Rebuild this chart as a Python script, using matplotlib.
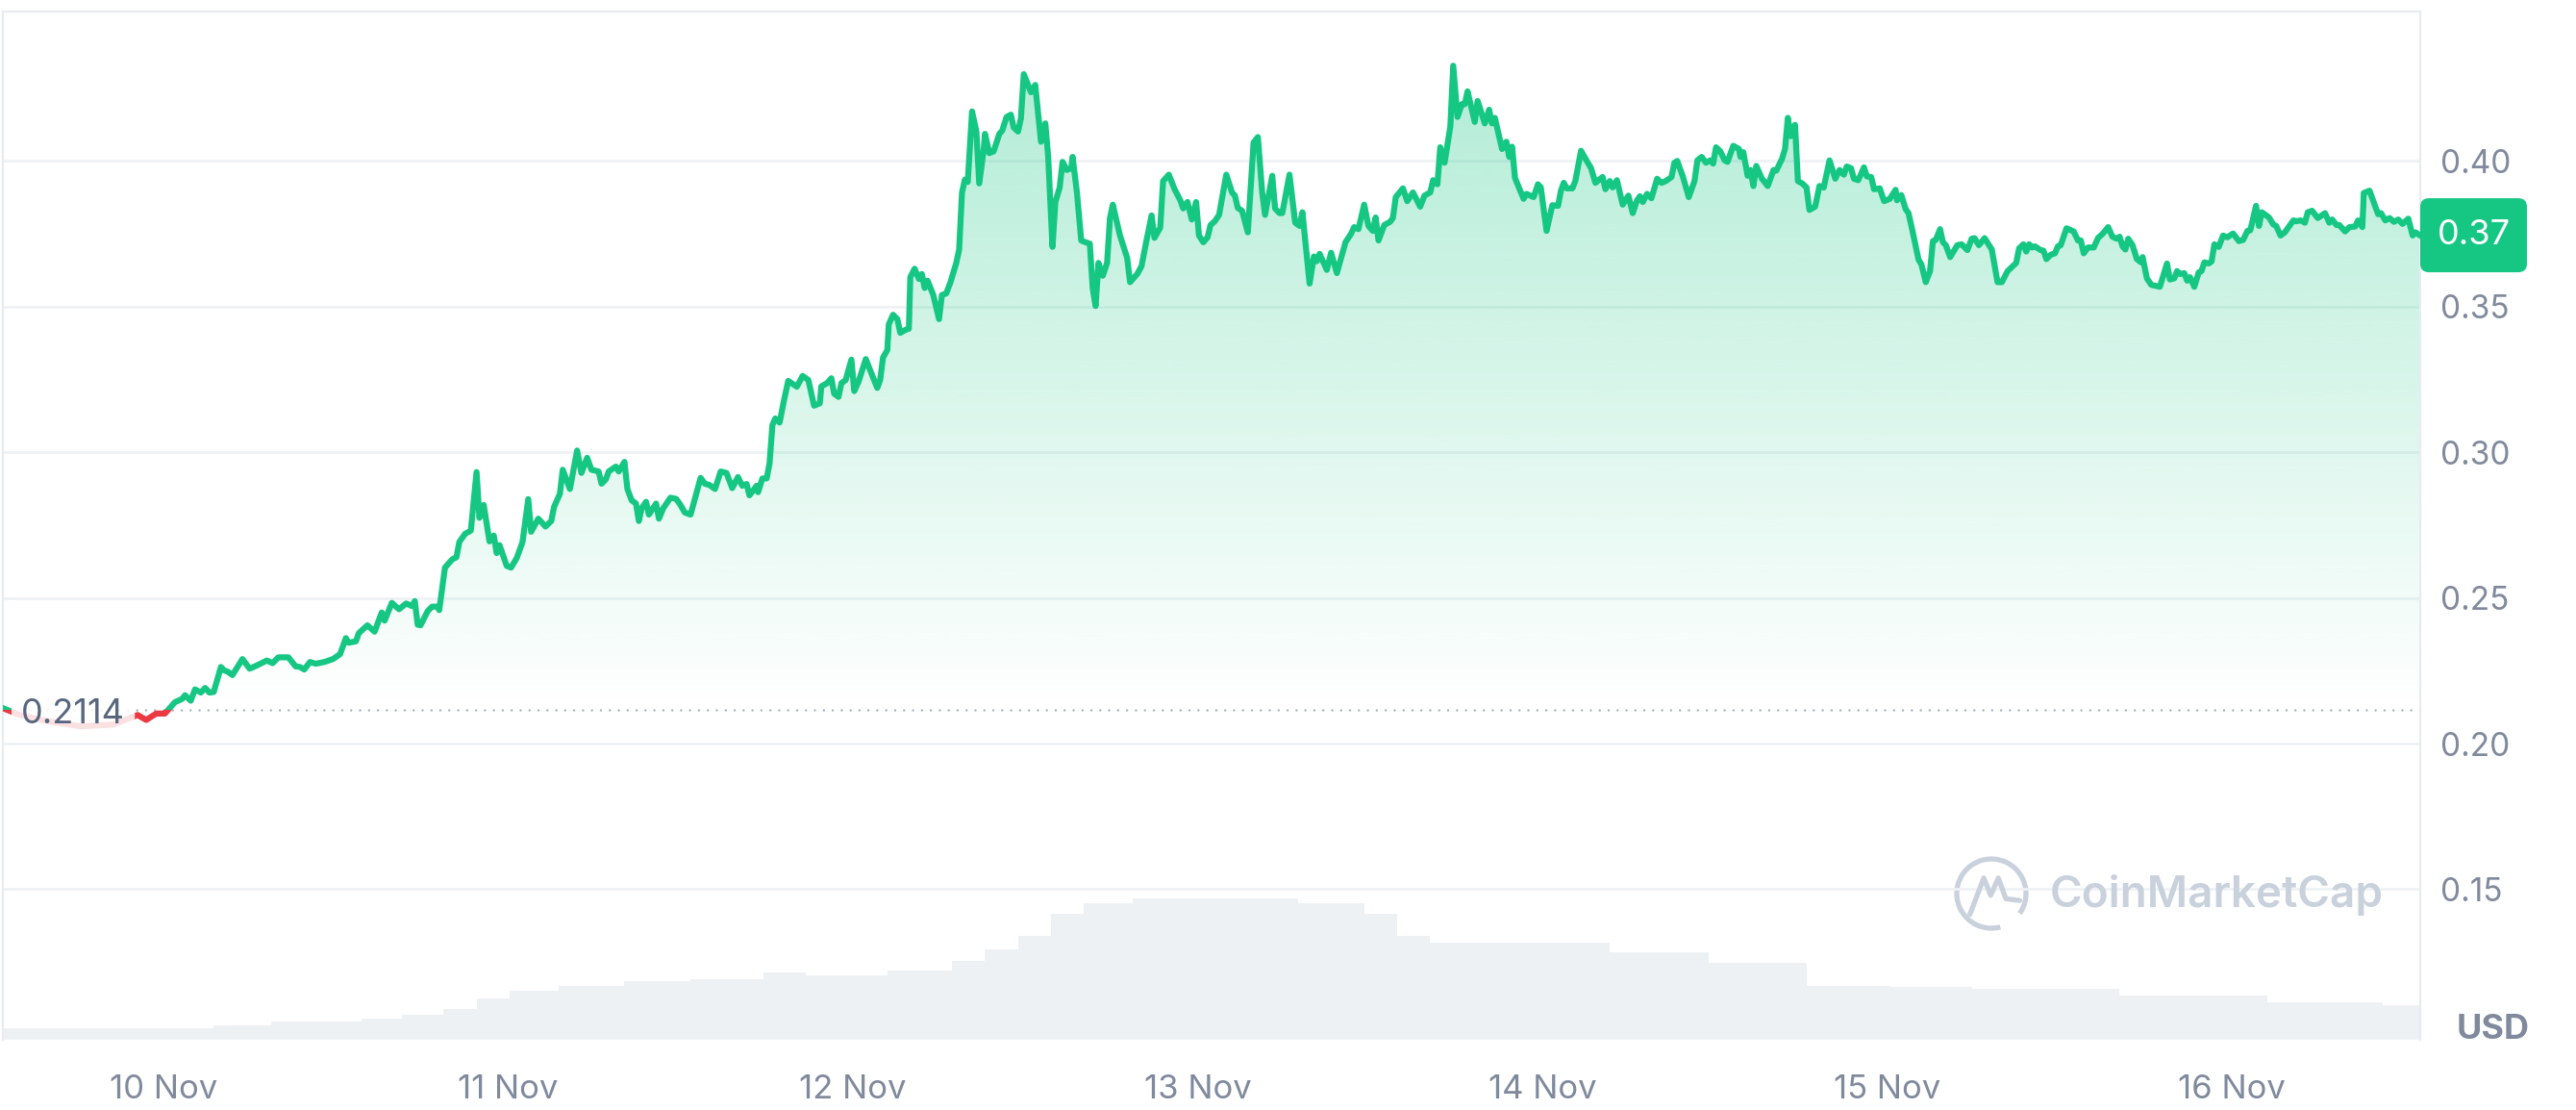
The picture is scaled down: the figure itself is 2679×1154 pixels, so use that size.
import numpy as np
import matplotlib.pyplot as plt
from matplotlib.patches import Rectangle, FancyBboxPatch, PathPatch, Arc
from matplotlib.colors import to_rgb
from matplotlib.transforms import IdentityTransform

plt.rcParams['font.family'] = ['Inter', 'DejaVu Sans']

# -----------------------------
# Data (hours after 10 Nov 00:00, price in USD)
# -----------------------------
hours = [
    -11.1, -10.0, -8.0, -5.8, -3.5, -1.8, -1.2, -0.5, 0.1, 0.5,
    0.8, 1.3, 1.5, 1.9, 2.2, 2.6, 2.9, 3.2, 3.5, 4.0,
    4.2, 4.5, 4.8, 5.5, 6.0, 6.5, 7.2, 7.6, 8.0, 8.7,
    9.2, 9.5, 9.8, 10.2, 10.6, 11.2, 11.8, 12.3, 12.7, 12.9,
    13.4, 13.6, 14.2, 14.7, 15.2, 15.4, 15.9, 16.4, 16.9, 17.3,
    17.5, 17.7, 17.9, 18.4, 18.7, 19.1, 19.2, 19.6, 20.1, 20.4,
    20.6, 21.0, 21.4, 21.8, 22.0, 22.3, 22.7, 23.0, 23.2, 23.4,
    23.9, 24.2, 24.6, 25.0, 25.4, 25.6, 26.1, 26.6, 27.0, 27.2,
    27.6, 27.8, 28.3, 28.8, 29.1, 29.5, 29.8, 30.3, 30.5, 30.8,
    31.0, 31.5, 31.7, 32.1, 32.3, 32.6, 32.9, 33.1, 33.3, 33.6,
    33.8, 34.3, 34.5, 34.8, 35.3, 35.7, 36.0, 36.3, 36.7, 37.4,
    37.7, 38.0, 38.4, 38.8, 39.2, 39.6, 40.0, 40.3, 40.6, 40.8,
    41.3, 41.4, 41.7, 42.0, 42.2, 42.4, 42.6, 42.9, 43.2, 43.5,
    44.1, 44.5, 44.9, 45.3, 45.7, 45.8, 46.2, 46.5, 46.7, 47.0,
    47.2, 47.5, 47.9, 48.1, 48.4, 48.9, 49.3, 49.7, 49.9, 50.1,
    50.4, 50.5, 50.8, 51.1, 51.3, 51.7, 51.9, 52.0, 52.3, 52.6,
    52.8, 53.0, 53.2, 53.6, 54.0, 54.2, 54.5, 54.8, 55.2, 55.4,
    55.6, 55.8, 56.0, 56.3, 56.6, 56.8, 57.1, 57.2, 57.5, 57.8,
    58.2, 58.4, 58.7, 59.0, 59.2, 59.5, 59.7, 59.9, 60.4, 60.7,
    61.1, 61.4, 61.6, 61.9, 62.1, 62.4, 62.6, 62.9, 63.2, 63.3,
    63.6, 63.9, 64.2, 64.5, 64.7, 64.9, 65.1, 65.4, 65.7, 65.9,
    66.1, 66.6, 67.1, 67.3, 67.8, 68.1, 68.4, 68.8, 69.0, 69.4,
    69.6, 70.0, 70.4, 70.8, 71.0, 71.3, 71.6, 71.9, 72.1, 72.4,
    72.7, 72.9, 73.2, 73.5, 74.0, 74.4, 74.6, 74.8, 75.1, 75.5,
    75.9, 76.2, 76.5, 76.7, 77.2, 77.4, 77.7, 77.9, 78.4, 78.8,
    79.1, 79.3, 79.8, 80.1, 80.3, 80.5, 81.0, 81.3, 81.7, 82.3,
    82.7, 82.9, 83.2, 83.6, 83.9, 84.2, 84.4, 84.6, 85.0, 85.4,
    85.6, 85.8, 86.3, 86.6, 87.0, 87.5, 87.8, 88.2, 88.4, 88.7,
    88.9, 89.2, 89.6, 89.8, 90.1, 90.4, 90.6, 90.8, 91.3, 91.5,
    92.0, 92.3, 92.5, 92.7, 93.2, 93.5, 93.7, 93.9, 94.1, 94.7,
    94.9, 95.4, 95.7, 95.9, 96.3, 96.7, 97.1, 97.3, 97.5, 97.7,
    98.1, 98.3, 98.7, 99.1, 99.4, 99.7, 100.2, 100.4, 100.7, 100.9,
    101.2, 101.6, 102.0, 102.3, 102.6, 102.8, 103.0, 103.3, 103.6, 104.0,
    104.3, 104.6, 105.0, 105.2, 105.4, 105.8, 106.2, 106.6, 106.8, 107.1,
    107.4, 107.7, 107.9, 108.1, 108.4, 108.7, 108.9, 109.3, 109.7, 109.8,
    110.0, 110.3, 110.5, 110.7, 110.9, 111.3, 111.7, 112.1, 112.3, 112.7,
    112.9, 113.1, 113.3, 113.6, 113.8, 114.1, 114.4, 114.6, 115.0, 115.3,
    115.6, 116.0, 116.4, 116.7, 117.0, 117.2, 117.5, 117.7, 118.0, 118.4,
    118.6, 118.9, 119.1, 119.5, 119.8, 120.2, 120.6, 120.7, 121.0, 121.3,
    121.5, 121.8, 122.2, 122.4, 122.7, 123.0, 123.2, 123.4, 123.7, 123.9,
    124.1, 124.4, 124.9, 125.2, 125.6, 125.9, 126.1, 126.4, 126.8, 127.3,
    127.7, 128.0, 128.4, 129.0, 129.2, 129.5, 129.7, 129.9, 130.1, 130.3,
    130.7, 130.9, 131.1, 131.4, 131.7, 131.9, 132.1, 132.5, 133.0, 133.3,
    133.5, 133.7, 134.0, 134.4, 134.7, 135.0, 135.4, 135.7, 136.0, 136.2,
    136.4, 136.6, 136.8, 137.1, 137.4, 137.7, 137.8, 138.1, 138.4, 139.0,
    139.5, 139.7, 140.0, 140.2, 140.4, 140.7, 140.9, 141.1, 141.4, 141.7,
    141.9, 142.1, 142.4, 142.6, 142.8, 143.1, 143.4, 143.7, 144.1, 144.5,
    144.8, 145.1, 145.3, 145.7, 145.9, 146.1, 146.6, 146.9, 147.1, 147.4,
    147.7, 148.3, 148.5, 148.8, 149.1, 149.3, 149.6, 150.0, 150.5, 150.8,
    151.0, 151.3, 151.5, 151.9, 152.2, 152.6, 152.8, 153.1, 153.2, 153.6,
    154.2, 154.4, 154.7, 155.0, 155.3, 155.6, 155.9, 156.3, 156.6, 156.8,
    157.1,
]
price = [
    0.2120, 0.2098, 0.2076, 0.2059, 0.2065, 0.2098, 0.2081, 0.2103, 0.2103, 0.2125,
    0.2142, 0.2153, 0.2166, 0.2147, 0.2186, 0.2175, 0.2191, 0.2175, 0.2177, 0.2263,
    0.2252, 0.2246, 0.2235, 0.2290, 0.2257, 0.2268, 0.2285, 0.2276, 0.2296, 0.2296,
    0.2265, 0.2263, 0.2254, 0.2280, 0.2274, 0.2280, 0.2290, 0.2307, 0.2362, 0.2346,
    0.2351, 0.2379, 0.2406, 0.2384, 0.2450, 0.2422, 0.2483, 0.2461, 0.2481, 0.2472,
    0.2489, 0.2408, 0.2406, 0.2455, 0.2470, 0.2470, 0.2458, 0.2604, 0.2632, 0.2640,
    0.2692, 0.2720, 0.2731, 0.2932, 0.2775, 0.2819, 0.2694, 0.2714, 0.2654, 0.2681,
    0.2610, 0.2604, 0.2637, 0.2692, 0.2839, 0.2727, 0.2772, 0.2745, 0.2764, 0.2813,
    0.2857, 0.2940, 0.2874, 0.3006, 0.2929, 0.2981, 0.2940, 0.2934, 0.2892, 0.2907,
    0.2934, 0.2951, 0.2934, 0.2967, 0.2874, 0.2835, 0.2824, 0.2764, 0.2808, 0.2830,
    0.2786, 0.2824, 0.2772, 0.2808, 0.2844, 0.2840, 0.2819, 0.2793, 0.2786, 0.2912,
    0.2892, 0.2888, 0.2874, 0.2934, 0.2929, 0.2877, 0.2915, 0.2885, 0.2891, 0.2852,
    0.2885, 0.2863, 0.2910, 0.2910, 0.2962, 0.3094, 0.3116, 0.3102, 0.3177, 0.3245,
    0.3225, 0.3262, 0.3248, 0.3160, 0.3168, 0.3226, 0.3237, 0.3254, 0.3201, 0.3190,
    0.3237, 0.3248, 0.3318, 0.3210, 0.3243, 0.3320, 0.3270, 0.3221, 0.3248, 0.3325,
    0.3351, 0.3439, 0.3472, 0.3457, 0.3410, 0.3421, 0.3424, 0.3601, 0.3630, 0.3595,
    0.3612, 0.3564, 0.3589, 0.3540, 0.3457, 0.3540, 0.3545, 0.3584, 0.3650, 0.3696,
    0.3892, 0.3936, 0.3928, 0.4170, 0.4101, 0.3923, 0.4035, 0.4093, 0.4027, 0.4033,
    0.4093, 0.4104, 0.4151, 0.4159, 0.4115, 0.4101, 0.4146, 0.4298, 0.4236, 0.4261,
    0.4066, 0.4129, 0.4014, 0.3705, 0.3859, 0.3909, 0.3997, 0.3969, 0.3975, 0.4014,
    0.3892, 0.3727, 0.3721, 0.3716, 0.3562, 0.3502, 0.3650, 0.3606, 0.3650, 0.3804,
    0.3850, 0.3744, 0.3667, 0.3584, 0.3612, 0.3639, 0.3716, 0.3813, 0.3736, 0.3771,
    0.3931, 0.3953, 0.3903, 0.3865, 0.3837, 0.3859, 0.3799, 0.3859, 0.3744, 0.3721,
    0.3738, 0.3780, 0.3793, 0.3815, 0.3953, 0.3892, 0.3881, 0.3839, 0.3829, 0.3755,
    0.4063, 0.4082, 0.3892, 0.3815, 0.3949, 0.3837, 0.3821, 0.3821, 0.3953, 0.3788,
    0.3777, 0.3824, 0.3579, 0.3672, 0.3656, 0.3681, 0.3626, 0.3685, 0.3615, 0.3721,
    0.3751, 0.3773, 0.3766, 0.3850, 0.3777, 0.3760, 0.3806, 0.3727, 0.3780, 0.3791,
    0.3804, 0.3876, 0.3906, 0.3862, 0.3892, 0.3843, 0.3881, 0.3892, 0.3934, 0.3920,
    0.4047, 0.3994, 0.4118, 0.4327, 0.4151, 0.4195, 0.4195, 0.4239, 0.4134, 0.4206,
    0.4129, 0.4176, 0.4129, 0.4148, 0.4041, 0.4066, 0.4014, 0.4049, 0.3942, 0.3870,
    0.3887, 0.3876, 0.3920, 0.3909, 0.3760, 0.3848, 0.3846, 0.3898, 0.3925, 0.3906,
    0.3906, 0.3931, 0.4035, 0.4000, 0.3975, 0.3925, 0.3945, 0.3903, 0.3931, 0.3909,
    0.3934, 0.3850, 0.3881, 0.3821, 0.3865, 0.3879, 0.3859, 0.3887, 0.3872, 0.3939,
    0.3925, 0.3931, 0.3945, 0.3994, 0.4000, 0.3945, 0.3876, 0.3931, 0.4002, 0.4014,
    0.3994, 0.4002, 0.3991, 0.4047, 0.4033, 0.4002, 0.3997, 0.4052, 0.4041, 0.4014,
    0.4030, 0.3949, 0.3969, 0.3914, 0.3983, 0.3939, 0.3914, 0.3969, 0.3967, 0.4008,
    0.4041, 0.4148, 0.4085, 0.4124, 0.3931, 0.3923, 0.3909, 0.3832, 0.3843, 0.3914,
    0.3909, 0.4002, 0.3939, 0.3969, 0.3953, 0.3981, 0.3975, 0.3939, 0.3934, 0.3978,
    0.3947, 0.3945, 0.3903, 0.3906, 0.3862, 0.3870, 0.3901, 0.3865, 0.3883, 0.3835,
    0.3821, 0.3755, 0.3661, 0.3645, 0.3584, 0.3622, 0.3725, 0.3729, 0.3766, 0.3721,
    0.3711, 0.3670, 0.3711, 0.3714, 0.3694, 0.3733, 0.3735, 0.3711, 0.3735, 0.3696,
    0.3584, 0.3584, 0.3622, 0.3650, 0.3700, 0.3714, 0.3689, 0.3714, 0.3703, 0.3707,
    0.3694, 0.3692, 0.3663, 0.3678, 0.3683, 0.3707, 0.3711, 0.3769, 0.3758, 0.3727,
    0.3727, 0.3683, 0.3703, 0.3703, 0.3736, 0.3749, 0.3773, 0.3740, 0.3733, 0.3740,
    0.3707, 0.3696, 0.3733, 0.3711, 0.3663, 0.3652, 0.3670, 0.3597, 0.3575, 0.3568,
    0.3648, 0.3593, 0.3597, 0.3622, 0.3612, 0.3615, 0.3589, 0.3601, 0.3568, 0.3617,
    0.3622, 0.3652, 0.3648, 0.3655, 0.3714, 0.3705, 0.3744, 0.3738, 0.3751, 0.3725,
    0.3729, 0.3760, 0.3762, 0.3846, 0.3777, 0.3824, 0.3806, 0.3782, 0.3777, 0.3744,
    0.3755, 0.3796, 0.3793, 0.3796, 0.3788, 0.3824, 0.3829, 0.3804, 0.3821, 0.3788,
    0.3799, 0.3780, 0.3780, 0.3758, 0.3773, 0.3775, 0.3796, 0.3773, 0.3890, 0.3898,
    0.3817, 0.3821, 0.3796, 0.3804, 0.3791, 0.3799, 0.3784, 0.3802, 0.3744, 0.3755,
    0.3745,
]

# 24h volume (relative units), step levels starting at these hours
vol_start = [-11.2, 3.5, 7.5, 13.8, 16.6, 19.5, 21.8, 24.1, 27.5, 32.1,
             36.7, 41.8, 44.7, 50.4, 54.9, 57.2, 59.5, 61.8, 64.1, 67.5,
             79.0, 83.6, 85.9, 88.2, 96.2, 100.7, 107.6, 114.4, 120.2, 125.9,
             136.2, 146.5, 154.5]
vol_level = [7, 9, 11, 13, 15, 19, 25, 30, 33, 36,
             37, 41, 39, 42, 48, 55, 63, 77, 83, 86,
             83, 77, 63, 59, 59, 53, 47, 33, 32, 31,
             27, 23, 21]
vol_end = 157.2

base_price = 0.2114
y_ticks = [0.15, 0.20, 0.25, 0.30, 0.35, 0.40]
day_ticks = [0, 24, 48, 72, 96, 120, 144]
day_labels = ['10 Nov', '11 Nov', '12 Nov', '13 Nov', '14 Nov', '15 Nov', '16 Nov']

# -----------------------------
# Style
# -----------------------------
GREEN = '#16c784'
RED = '#ea3943'
TXT = '#808a9d'
GRID = '#eff2f5'
W, H = 2679, 1154
X0, X1 = -11.18, 157.13
Y0, Y1 = 0.0983, 0.4513

fig = plt.figure(figsize=(W / 100, H / 100), dpi=100)
pos = [3 / W, (H - 1081) / H, (2517 - 3) / W, (1081 - 12) / H]

# volume behind
axv = fig.add_axes(pos, zorder=0)
axv.bar(vol_start, vol_level, width=np.diff(vol_start + [vol_end]), align='edge',
        color='#eef1f4', linewidth=0)
axv.set_xlim(X0, X1)
axv.set_ylim(0, 626)
axv.axis('off')

ax = fig.add_axes(pos, zorder=1)
ax.patch.set_alpha(0)
ax.set_xlim(X0, X1)
ax.set_ylim(Y0, Y1)

for t in y_ticks:
    ax.axhline(t, color=GRID, lw=2, zorder=0)

# gradient fill between line and baseline
poly = ax.fill_between(hours, price, base_price, facecolor='none', edgecolor='none')
clip = PathPatch(poly.get_paths()[0], transform=ax.transData, facecolor='none', edgecolor='none')
ax.add_patch(clip)
ramp = np.linspace(0, 1, 256)
g = np.zeros((256, 1, 4))
g[..., :3] = to_rgb(GREEN)
g[:, 0, 3] = ramp * 0.36
im = ax.imshow(g, extent=[X0, X1, base_price, Y1], origin='lower', aspect='auto', zorder=1)
im.set_clip_path(clip)
r = np.zeros((256, 1, 4))
r[..., :3] = to_rgb(RED)
r[:, 0, 3] = ramp[::-1] * 0.25
imr = ax.imshow(r, extent=[X0, X1, Y0, base_price], origin='lower', aspect='auto', zorder=1)
imr.set_clip_path(clip)

# dotted reference line
ax.axhline(base_price, color='#a7b1c2', lw=1.8, ls=(0, (0.01, 3.7)),
           dash_capstyle='round', zorder=2)

# price line, green above / red below the start price
upper = Rectangle((X0, base_price), X1 - X0, 1, transform=ax.transData)
lower = Rectangle((X0, -1), X1 - X0, base_price + 1, transform=ax.transData)
lg, = ax.plot(hours, price, color=GREEN, lw=4.5, zorder=3, solid_joinstyle='round')
lg.set_clip_path(upper)
lr, = ax.plot(hours, price, color=RED, lw=4.5, zorder=3, solid_joinstyle='round')
lr.set_clip_path(lower)

ax.set_xlim(X0, X1)
ax.set_ylim(Y0, Y1)

# start price label
ax.text(-9.9, base_price - 0.0013, f'{base_price:.4f}', fontsize=26, color='#58667e',
        va='center', ha='left', zorder=5,
        bbox=dict(boxstyle='round,pad=0.28', fc='white', ec='none', alpha=0.85))

# axes / ticks
ax.yaxis.tick_right()
ax.set_yticks(y_ticks)
ax.set_yticklabels([f'{t:.2f}' for t in y_ticks])
ax.set_xticks(day_ticks)
ax.set_xticklabels(day_labels)
ax.tick_params(axis='y', length=0, pad=15, labelsize=24, labelcolor=TXT)
ax.tick_params(axis='x', length=0, pad=26, labelsize=25, labelcolor=TXT)
for s in ['top', 'left', 'right']:
    ax.spines[s].set_color('#e8ebef')
    ax.spines[s].set_linewidth(1.6)
ax.spines['bottom'].set_visible(False)

fig.text(2555 / W, 1 - 1071 / H, 'USD', fontsize=26, fontweight='bold', color=TXT, va='center')

# current price badge
last = price[-1]
yb = ax.transData.transform((0, last))[1]
badge = FancyBboxPatch((2517, yb - 38.5), 111, 77, boxstyle='round,pad=0,rounding_size=9',
                       transform=IdentityTransform(), fc=GREEN, ec='none', zorder=10)
fig.add_artist(badge)
fig.text(2572.5 / W, yb / H, f'{last:.2f}', fontsize=26, color='white', ha='center',
         va='center', zorder=11)

# watermark
WM = '#c9d1dc'
cx, cy, rr = 2071, H - 929, 36
fig.add_artist(Arc((cx, cy), 2 * rr, 2 * rr, theta1=-35, theta2=285, lw=3.8, color=WM,
                   transform=IdentityTransform()))
mx = [cx - 0.62 * rr, cx - 0.22 * rr, cx - 0.02 * rr, cx + 0.2 * rr, cx + 0.42 * rr, cx + 0.82 * rr]
my = [cy - 0.6 * rr, cy + 0.45 * rr, cy - 0.05 * rr, cy + 0.45 * rr, cy - 0.15 * rr, cy - 0.2 * rr]
fig.add_artist(plt.Line2D(mx, my, lw=3.8, color=WM, transform=IdentityTransform(),
                          solid_joinstyle='round', solid_capstyle='round'))
fig.text(2132 / W, 1 - 931 / H, 'CoinMarketCap', fontsize=33, fontweight='semibold',
         color=WM, va='center', ha='left')

fig.savefig('out.png', dpi=100)
